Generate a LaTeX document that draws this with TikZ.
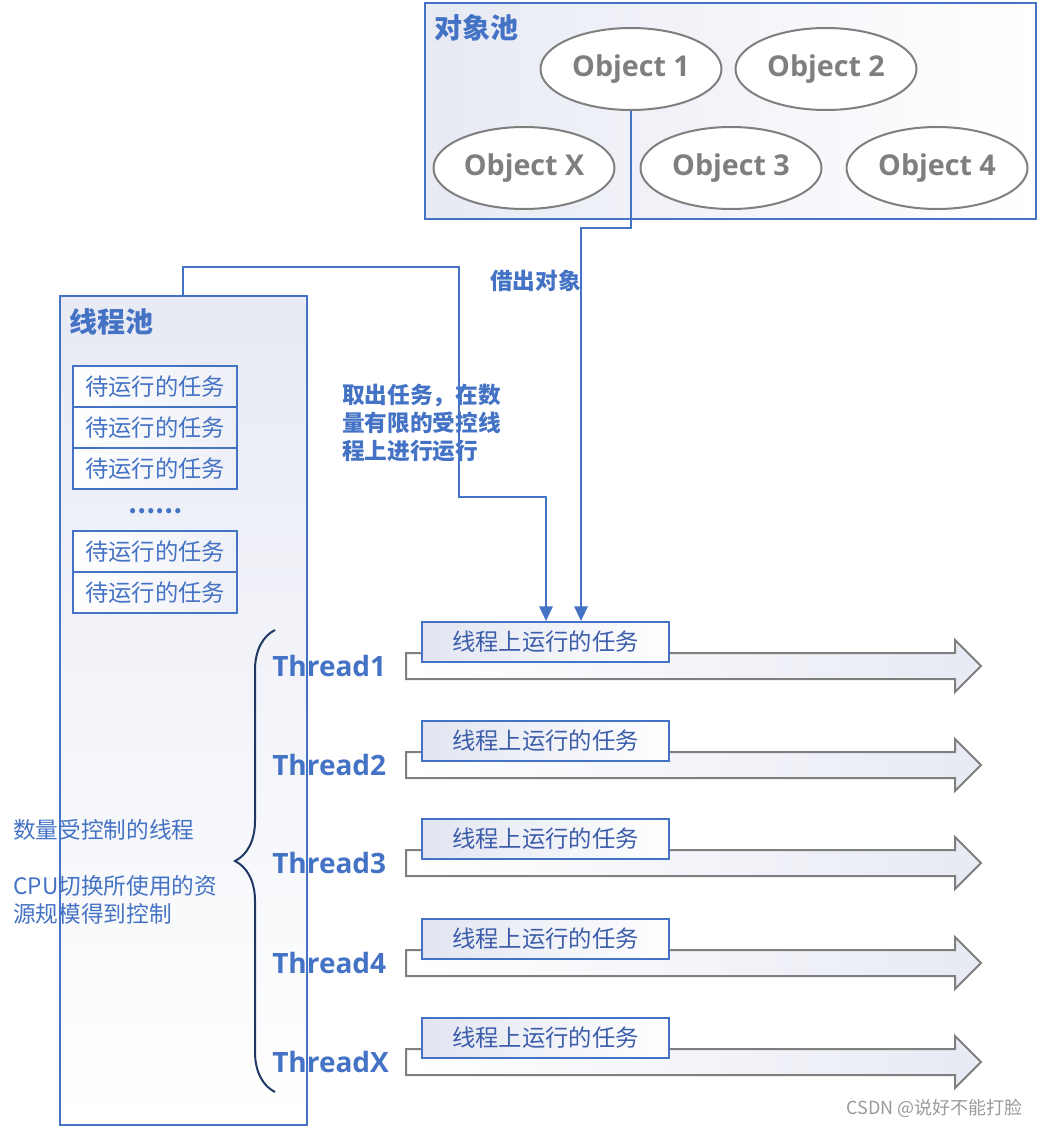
\documentclass[tikz,border=0pt]{standalone}
\usepackage{fontspec}
\setmainfont{Open Sans}
\newfontfamily\cjk{Noto Sans CJK SC}
\usetikzlibrary{arrows.meta,decorations.pathreplacing,shapes.geometric}
\definecolor{cblue}{HTML}{4472C4}
\definecolor{ctext}{HTML}{3C5DAA}
\definecolor{cgray}{HTML}{7F7F7F}
\definecolor{cnavy}{HTML}{1F3864}
\definecolor{ctint}{HTML}{E2E5F1}
\definecolor{cwm}{HTML}{9A9A9A}
\begin{document}
\begin{tikzpicture}[x=0.75pt,y=-0.75pt,
  conn/.style={draw=cblue,line width=1.5pt},
  tipend/.style={-{Triangle[width=10pt,length=11pt]}},
  poolbox/.style={rectangle,draw=cblue,line width=1.1pt,inner sep=0pt},
  obj/.style={ellipse,draw=cgray,line width=1.5pt,fill=white,minimum width=181*0.75pt,minimum height=82*0.75pt,inner sep=0pt,text=cgray,font=\fontsize{21.5}{25}\selectfont\bfseries},
  waittask/.style={rectangle,draw=cblue,line width=1.2pt,left color=white,right color=ctint!60,minimum width=164*0.75pt,minimum height=41*0.75pt,inner sep=0pt,text=cblue,font=\cjk\fontsize{17.5}{20}\selectfont},
  runtask/.style={rectangle,draw=cblue,line width=1.5pt,left color=ctint,right color=white,minimum width=247*0.75pt,minimum height=40*0.75pt,inner sep=0pt,text=ctext,font=\cjk\fontsize{17.5}{20}\selectfont},
  fatarrow/.style={draw=cgray,line width=1.5pt,left color=white,right color=ctint!80},
  thlab/.style={text=cblue,font=\fontsize{21}{24}\selectfont\bfseries,inner sep=0pt,anchor=west},
  pooltitle/.style={text=cblue,font=\cjk\bfseries\fontsize{21}{24}\selectfont,inner sep=0pt,anchor=west},
  note/.style={text=cblue,font=\cjk\bfseries\fontsize{17}{21}\selectfont,inner sep=0pt,align=left,anchor=west},
  plain/.style={text=cblue,font=\cjk\fontsize{17}{21}\selectfont,inner sep=0pt,align=left,anchor=west},
]
\useasboundingbox (0,0) rectangle (1038,1127);
% pools
\node[poolbox,left color=ctint!80,right color=white,minimum width=611*0.75pt,minimum height=216*0.75pt] (op) at (730.5,111) {};
\node[poolbox,top color=ctint!80,bottom color=white,minimum width=247*0.75pt,minimum height=829*0.75pt] (tp) at (183.5,710.5) {};
\node[pooltitle] (optitle) at (434,28) {对象池};
\node[pooltitle] (tptitle) at (69,322) {线程池};
% objects
\node[obj] (o1) at (631,69) {Object 1};
\node[obj] (o2) at (826,69) {Object 2};
\node[obj] (ox) at (524,168) {Object X};
\node[obj] (o3) at (731,168) {Object 3};
\node[obj] (o4) at (937,168) {Object 4};
% waiting tasks
\node[waittask] (w1) at (155,386.5) {待运行的任务};
\node[waittask] (w2) at (155,427.5) {待运行的任务};
\node[waittask] (w3) at (155,468.5) {待运行的任务};
\node[text=cblue,font=\cjk\bfseries\fontsize{18}{20}\selectfont,inner sep=0pt] (dots) at (155,511) {……};
\node[waittask] (w4) at (155,551.5) {待运行的任务};
\node[waittask] (w5) at (155,592.5) {待运行的任务};
% threads
\foreach \i/\lab/\cy in {1/Thread1/666,2/Thread2/765,3/Thread3/863,4/Thread4/963,5/ThreadX/1062}{
  \draw[fatarrow] (406,\cy-13) -- (955,\cy-13) -- (955,\cy-26) -- (981,\cy) -- (955,\cy+26) -- (955,\cy+13) -- (406,\cy+13) -- cycle;
  \node[runtask] (t\i) at (545.5,\cy-24) {线程上运行的任务};
  \node[thlab] (th\i) at (272,\cy) {\lab};
}
% brace
\draw[cnavy,line width=1.5pt,decorate,decoration={brace,amplitude=30pt}] (275,1092) -- (275,630);
% texts
\node[plain] (n1) at (13,830) {数量受控制的线程};
\node[plain] (n2) at (13,900) {CPU切换所使用的资\\源规模得到控制};
\node[note] (lb1) at (490,281) {借出对象};
\node[note] (lb2) at (342,423) {取出任务，在数\\量有限的受控线\\程上进行运行};
\node[text=cwm,font=\cjk\fontsize{13.5}{16}\selectfont,inner sep=0pt,anchor=east] (wm) at (1023,1108) {CSDN @说好不能打脸};
% outline of thread pool on top
\draw[cblue,line width=1.1pt] (tp.south west) rectangle (tp.north east);
% connectors
\coordinate (b1) at (581,228);
\draw[conn,tipend] (o1.south) |- (b1) -- (b1 |- t1.north);
\coordinate (b0) at (183,267);
\coordinate (b2) at (459,267);
\coordinate (b3) at (546,497);
\draw[conn,tipend] (b0 |- tp.north) -- (b0) -- (b2) |- (b3) -- (b3 |- t1.north);
\end{tikzpicture}
\end{document}
